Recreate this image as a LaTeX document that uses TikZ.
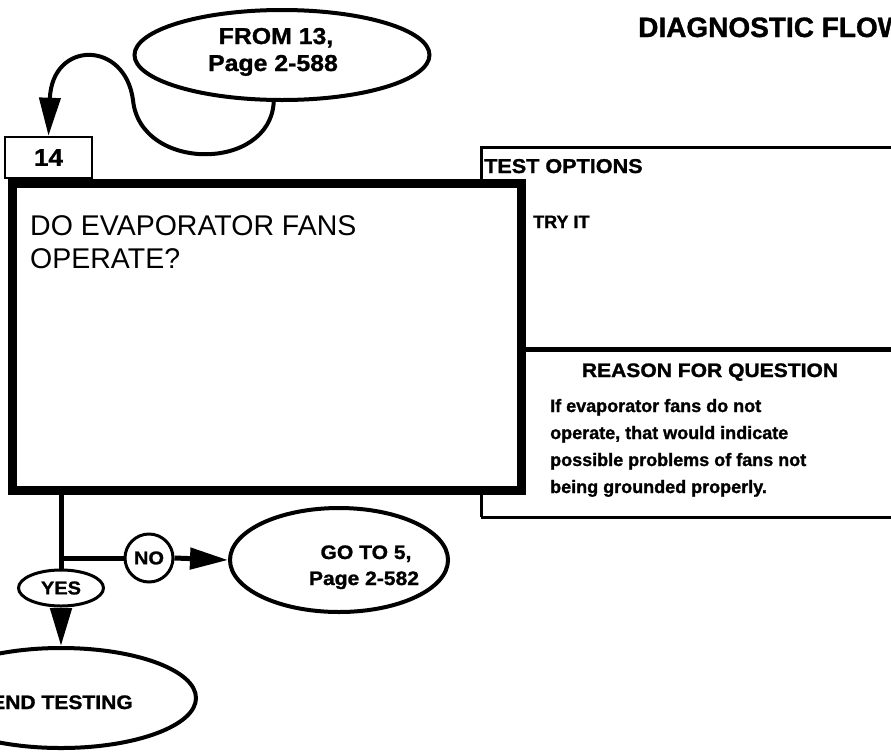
\documentclass[tikz,border=0pt]{standalone}
\usepackage{fontspec}
\setmainfont{Liberation Sans}
\newfontfamily\heavy{Liberation Sans}[FakeStretch=1.08, BoldFeatures={FakeBold=1.2}]
\newfontfamily\heavyn{Liberation Sans}[BoldFeatures={FakeBold=1.2}]
\usetikzlibrary{shapes.geometric,arrows.meta}
\tikzset{
  ell/.style={draw, ellipse, line width=4pt, inner sep=0pt, fill=white},
  conn/.style={line width=5pt},
  tipped/.style={-{Triangle[length=38pt,width=21pt]}},
  lbl/.style={inner sep=0pt, font=\heavy\bfseries\fontsize{19.5}{24}\selectfont},
  body/.style={inner sep=0pt, anchor=base west, font=\heavyn\bfseries\fontsize{18}{22}\selectfont},
  qtext/.style={inner sep=0pt, anchor=base west, font=\fontsize{28.5}{33}\selectfont},
  panel/.style={line width=3pt}
}
\begin{document}
\begin{tikzpicture}[x=1pt,y=-1pt]
\useasboundingbox (0,0) rectangle (891,753);
\fill[white] (0,0) rectangle (891,753);
\clip (0,0) rectangle (891,753);

% title
\node[inner sep=0pt, anchor=base west, font=\heavyn\bfseries\fontsize{28}{32}\selectfont] (title) at (638,37) {DIAGNOSTIC FLOW};

% right panel
\coordinate (pTL) at (481,147);
\coordinate (pTR) at (900,147);
\coordinate (pBL) at (481,517);
\coordinate (pBR) at (900,517);
\draw[panel] (pBL) -- (pTL) -- (pTR);
\draw[panel] (pBL) -- (pBR);

% step number box
\node[draw, line width=2.5pt, minimum width=87pt, minimum height=41pt, inner sep=0pt,
      font=\heavy\bfseries\fontsize{24}{26}\selectfont] (t14) at (48.5,157.5) {14};

% main question box
\node[draw, line width=9pt, fill=white, minimum width=509pt, minimum height=307pt, inner sep=0pt] (q) at (266.5,336.5) {};
\node[qtext] (q1) at (30,235) {DO EVAPORATOR FANS};
\node[qtext] (q2) at (30,268) {OPERATE?};

% divider
\coordinate (dL) at (521,349);
\coordinate (dR) at (900,349);
\draw[line width=5pt] (dL) -- (dR);

\node[lbl, anchor=base west, font=\heavy\bfseries\fontsize{20}{24}\selectfont] (to) at (484,173) {TEST OPTIONS};
\node[body] (try) at (533,228) {TRY IT};
\node[lbl, anchor=base, font=\heavy\bfseries\fontsize{19.5}{24}\selectfont] (rq) at (710,377) {REASON FOR QUESTION};
\node[body] (b1) at (550,412) {If evaporator fans do not};
\node[body] (b2) at (550,439) {operate, that would indicate};
\node[body] (b3) at (550,466) {possible problems of fans not};
\node[body] (b4) at (550,493) {being grounded properly.};

% FROM ellipse
\node[ell, minimum width=295pt, minimum height=90pt] (from) at (282,55) {};
\node[lbl, anchor=base, font=\heavy\bfseries\fontsize{23}{26}\selectfont] (f1) at (276,44) {FROM 13,};
\node[lbl, anchor=base, font=\heavy\bfseries\fontsize{23}{26}\selectfont] (f2) at (273,71) {Page 2-588};
\draw[line width=4pt, tipped] (from.-100) .. controls (270,172) and (140,172) .. (133,100)
      .. controls (125,40) and (52,40) .. (t14.north);

% outcome ellipses
\node[ell, minimum width=218pt, minimum height=104pt] (go) at (339,560) {};
\node[lbl, anchor=base] (g1) at (366,559) {GO TO 5,};
\node[lbl, anchor=base] (g2) at (364,585) {Page 2-582};

\node[ell, minimum width=270pt, minimum height=100pt] (end) at (61,698) {};
\node[lbl, anchor=base] (e1) at (62,709) {END TESTING};

\node[ell, minimum width=85pt, minimum height=36pt, line width=3pt, font=\heavy\bfseries\fontsize{18.5}{22}\selectfont] (yes) at (61,588) {YES};
\node[draw, circle, line width=3pt, minimum size=48pt, inner sep=0pt, fill=white,
      font=\heavy\bfseries\fontsize{18.5}{22}\selectfont] (no) at (149,558) {NO};

% connectors
\draw[conn] (yes.north |- q.south) -- (yes.north);
\draw[conn] (yes.north |- no.west) -- (no.west);
\draw[conn, tipped] (no.east) -- (go.west);
\draw[conn, tipped] (yes.south) -- (end.north);
\end{tikzpicture}
\end{document}
